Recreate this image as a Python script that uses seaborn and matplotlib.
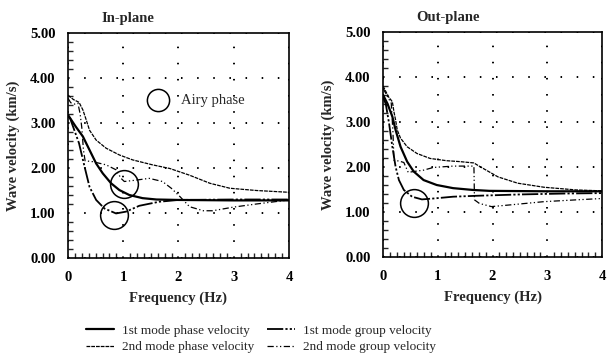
import matplotlib
matplotlib.use("Agg")
import matplotlib.pyplot as plt
from matplotlib.ticker import MultipleLocator, FormatStrFormatter
import seaborn as sns
import pandas as pd

# ---- In-plane dispersion curves (frequency in Hz, velocity in km/s) ----
in_f_phase1 = [0, 0.14, 0.27, 0.39, 0.51, 0.63, 0.78, 0.93, 1.11, 1.35, 1.6, 2.0, 3.0, 4.0]
in_v_phase1 = [3.18, 2.92, 2.70, 2.40, 2.10, 1.88, 1.66, 1.51, 1.40, 1.33, 1.30, 1.29, 1.28, 1.28]

in_f_group1 = [0, 0.04, 0.08, 0.2, 0.3, 0.39, 0.51, 0.66, 0.87, 1.05, 1.29, 1.65, 2.0, 3.0, 4.0]
in_v_group1 = [3.15, 3.10, 2.96, 2.55, 2.03, 1.58, 1.29, 1.10, 0.99, 1.03, 1.16, 1.25, 1.29, 1.30, 1.30]

in_f_phase2 = [0, 0.1, 0.2, 0.27, 0.33, 0.39, 0.51, 0.69, 0.93, 1.17, 1.53, 1.84, 2.2, 2.57, 2.93, 3.41, 4.0]
in_v_phase2 = [3.62, 3.52, 3.46, 3.29, 3.07, 2.84, 2.62, 2.44, 2.29, 2.18, 2.07, 1.99, 1.84, 1.66, 1.55, 1.50, 1.46]

in_f_group2 = [0, 0.05, 0.12, 0.18, 0.22, 0.25, 0.28, 0.31, 0.45, 0.69, 0.87, 0.96, 1.02,
               1.23, 1.47, 1.71, 1.87, 2.03, 2.2, 2.45, 2.62, 2.99, 3.41, 4.0]
in_v_group2 = [3.55, 3.45, 3.42, 3.44, 3.20, 2.90, 2.40, 2.16, 2.14, 2.07, 1.96, 1.77, 1.70,
               1.73, 1.77, 1.70, 1.55, 1.36, 1.14, 1.05, 1.05, 1.13, 1.20, 1.29]

# ---- Out-plane dispersion curves ----
out_f_phase1 = [0, 0.08, 0.17, 0.23, 0.32, 0.44, 0.56, 0.74, 0.98, 1.28, 1.64, 1.94, 3.0, 4.0]
out_v_phase1 = [3.60, 3.41, 3.12, 2.82, 2.45, 2.12, 1.90, 1.71, 1.60, 1.53, 1.49, 1.47, 1.46, 1.46]

out_f_group1 = [0, 0.05, 0.11, 0.17, 0.23, 0.29, 0.38, 0.53, 0.71, 0.92, 1.28, 1.70, 2.5, 3.3, 4.0]
out_v_group1 = [3.55, 3.40, 2.97, 2.45, 2.00, 1.71, 1.49, 1.34, 1.28, 1.30, 1.34, 1.36, 1.39, 1.41, 1.42]

out_f_phase2 = [0, 0.1, 0.17, 0.2, 0.23, 0.26, 0.32, 0.44, 0.62, 0.86, 1.16, 1.40, 1.66,
                1.74, 2.1, 2.46, 2.94, 3.53, 4.0]
out_v_phase2 = [3.80, 3.56, 3.45, 3.22, 3.04, 2.82, 2.64, 2.45, 2.30, 2.19, 2.14, 2.12, 2.09,
                2.03, 1.78, 1.64, 1.55, 1.49, 1.47]

out_f_group2 = [0, 0.1, 0.15, 0.18, 0.2, 0.3, 0.38, 0.46, 0.56, 0.74, 0.92, 1.28, 1.66,
                1.67, 1.76, 1.98, 2.34, 2.94, 3.53, 4.0]
out_v_group2 = [3.75, 3.52, 3.42, 2.80, 2.15, 2.13, 2.10, 1.88, 1.90, 1.93, 1.99, 2.02, 2.02,
                1.27, 1.19, 1.12, 1.16, 1.23, 1.27, 1.30]

# Airy phase locations (group-velocity minima)
in_airy_f = [1.01, 0.83]
in_airy_v = [1.64, 0.96]
out_airy_f = [0.56]
out_airy_v = [1.21]

series_labels = ["1st mode phase velocity", "1st mode group velocity",
                 "2nd mode phase velocity", "2nd mode group velocity"]
panel_titles = ["In-plane", "Out-plane"]
x_ticks = [0, 1, 2, 3, 4]
y_ticks = [0, 1, 2, 3, 4, 5]

styles = {
    series_labels[0]: dict(linewidth=1.6, linestyle="-"),
    series_labels[1]: dict(linewidth=1.3, linestyle=(0, (9, 1.2, 1.2, 1.2, 1.2, 1.2))),
    series_labels[2]: dict(linewidth=0.9, linestyle=(0, (3, 0.8))),
    series_labels[3]: dict(linewidth=0.9, linestyle=(0, (5, 2, 1, 2, 1, 2))),
}

sns.set_theme(style="white")
plt.rcParams["font.family"] = ["Liberation Serif", "DejaVu Serif"]

fig = plt.figure(figsize=(6.08, 3.57), dpi=100)
ax_in = fig.add_axes([0.1118, 0.2773, 0.3635, 0.6303])
ax_out = fig.add_axes([0.630, 0.2801, 0.3602, 0.6303])

panels = [
    (ax_in, [(in_f_phase1, in_v_phase1), (in_f_group1, in_v_group1),
             (in_f_phase2, in_v_phase2), (in_f_group2, in_v_group2)],
     in_airy_f, in_airy_v),
    (ax_out, [(out_f_phase1, out_v_phase1), (out_f_group1, out_v_group1),
              (out_f_phase2, out_v_phase2), (out_f_group2, out_v_group2)],
     out_airy_f, out_airy_v),
]

for (ax, curves, af, av), title in zip(panels, panel_titles):
    for label, (f, v) in zip(series_labels, curves):
        df = pd.DataFrame({"f": f, "v": v})
        sns.lineplot(data=df, x="f", y="v", ax=ax, color="black", label=label,
                     estimator=None, sort=False, legend=False, **styles[label])
    ax.plot(af, av, linestyle="none", marker="o", markersize=20,
            markerfacecolor="none", markeredgecolor="black", markeredgewidth=1.1)

    ax.set_xlim(0, 4)
    ax.set_ylim(0, 5)
    ax.set_xticks(x_ticks)
    ax.set_yticks(y_ticks)
    ax.yaxis.set_major_formatter(FormatStrFormatter("%.2f"))
    ax.xaxis.set_minor_locator(MultipleLocator(0.125))
    ax.yaxis.set_minor_locator(MultipleLocator(0.2))
    ax.tick_params(which="major", direction="in", length=6, width=1.1, pad=9,
                   labelsize=10.5, colors="black")
    ax.tick_params(which="minor", direction="in", length=3.5, width=1.0,
                   bottom=True, left=True)
    for lab in ax.get_xticklabels() + ax.get_yticklabels():
        lab.set_fontweight("bold")
    ax.grid(True, which="major", color="black", linewidth=1.4,
            linestyle=(0, (0.8, 7.5)))
    for s in ax.spines.values():
        s.set_color("black")
        s.set_linewidth(1.2)
    ax.set_xlabel("Frequency (Hz)", fontsize=10.5, fontweight="bold", labelpad=6)
    ax.set_ylabel("Wave velocity (km/s)", fontsize=10.5, fontweight="bold", labelpad=7)
    ax.text(0.15, 1.035, title, transform=ax.transAxes, fontsize=10.5,
            fontweight="bold", ha="left", va="bottom")

# Airy phase key inside the in-plane panel
ax_in.plot([1.63], [3.51], linestyle="none", marker="o", markersize=16,
           markerfacecolor="none", markeredgecolor="black", markeredgewidth=1.1)
ax_in.text(2.04, 3.51, "Airy phase", fontsize=10.5, ha="left", va="center")

# Legend rows: 1st mode on top, 2nd mode below (columns fill first)
lines = ax_in.get_lines()[:4]
order = [0, 2, 1, 3]
fig.legend([lines[i] for i in order], [series_labels[i] for i in order],
           loc="center", ncol=2, frameon=False,
           bbox_to_anchor=(261 / 608, 1 - 339 / 357), fontsize=9.5,
           handlelength=2.1, handletextpad=0.6, columnspacing=1.0,
           labelspacing=0.3, borderpad=0, borderaxespad=0)

fig.savefig("out.png", dpi=100, facecolor="white")
